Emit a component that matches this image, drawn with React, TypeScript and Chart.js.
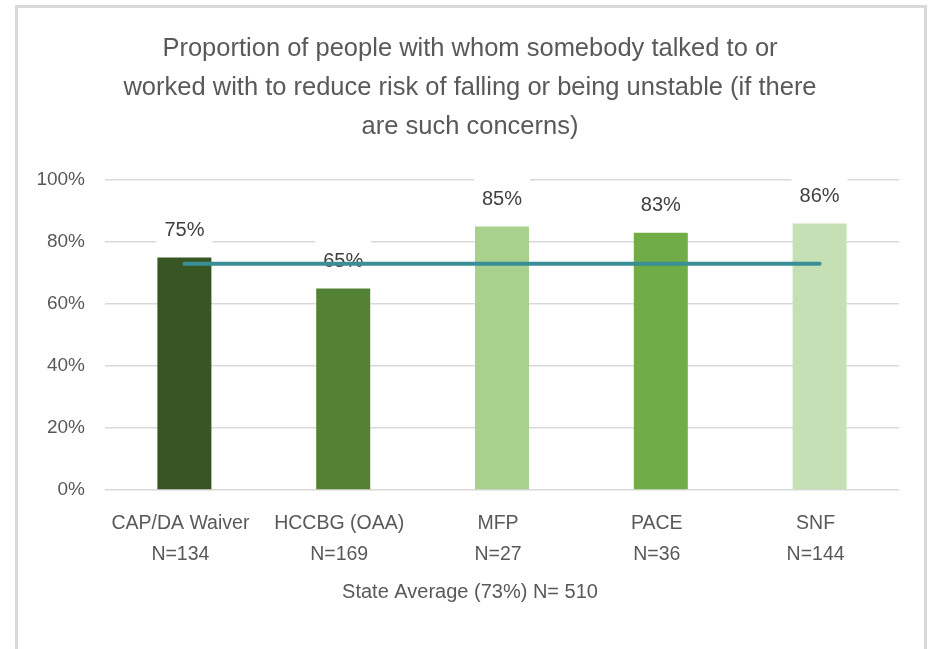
import React, { useEffect, useRef } from "react";
import { Chart, registerables } from "chart.js";

Chart.register(...registerables);

const titleLines = [
  "Proportion of people with whom somebody talked to or",
  "worked with to reduce risk of falling or being unstable (if there",
  "are such concerns)",
];
const categories = [
  ["CAP/DA Waiver", "N=134"],
  ["HCCBG (OAA)", "N=169"],
  ["MFP", "N=27"],
  ["PACE", "N=36"],
  ["SNF", "N=144"],
];
const proportions = [75, 65, 85, 83, 86];
const stateAverage = [73, 73, 73, 73, 73];
const barColors = ["#375623", "#548235", "#A9D18E", "#70AD47", "#C5E0B4"];
const xAxisTitle = "State Average (73%) N= 510";

const FONT = '"Liberation Sans", Arial, sans-serif';

const labelPlugin = {
  id: "barLabels",
  afterDatasetDraw(chart: any, args: any) {
    if (args.index !== 0) return;
    const ctx = chart.ctx;
    ctx.save();
    ctx.font = `20px ${FONT}`;
    ctx.textAlign = "center";
    ctx.textBaseline = "middle";
    args.meta.data.forEach((el: any, i: number) => {
      const cx = el.x;
      const cy = el.y - 27;
      ctx.fillStyle = "#ffffff";
      ctx.fillRect(cx - 28, cy - 23, 56, 46);
      ctx.fillStyle = "#404040";
      ctx.fillText(proportions[i] + "%", cx, cy);
    });
    ctx.restore();
  },
};

// Center the title and the bottom caption on the chart frame rather than on the plot.
const centerTitlesPlugin = {
  id: "centerTitles",
  afterLayout(chart: any) {
    chart.boxes.forEach((b: any) => {
      if (!b.axis && b.options && b.options.text !== undefined) {
        b.left = 41;
        b.right = 899;
      }
    });
  },
};

export default function App() {
  const ref = useRef<HTMLCanvasElement>(null);
  useEffect(() => {
    if (!ref.current) return;
    const chart = new Chart(ref.current, {
      data: {
        labels: categories,
        datasets: [
          {
            type: "bar",
            data: proportions,
            backgroundColor: barColors,
            barPercentage: 0.34,
            categoryPercentage: 1,
            order: 2,
          },
          {
            type: "line",
            data: stateAverage,
            borderColor: "#3A8F96",
            borderWidth: 4,
            borderCapStyle: "round",
            pointRadius: 0,
            order: 1,
          },
        ],
      } as any,
      options: {
        responsive: false,
        animation: false,
        layout: { padding: { left: 0, right: 35, top: 0, bottom: 0 } },
        plugins: {
          legend: { display: false },
          tooltip: { enabled: false },
          title: {
            display: true,
            text: titleLines,
            color: "#595959",
            font: { family: FONT, size: 25.5, weight: "normal", lineHeight: 1.53 },
            padding: { top: 29.5, bottom: 33.5 },
          },
          subtitle: {
            display: true,
            position: "bottom",
            text: xAxisTitle,
            color: "#595959",
            font: { family: FONT, size: 20, weight: "normal", lineHeight: 1.2 },
            padding: { top: 0, bottom: 45 },
          },
        },
        scales: {
          x: {
            grid: { display: false, drawTicks: false },
            border: { display: false },
            ticks: {
              color: "#595959",
              font: { family: FONT, size: 19.5, lineHeight: 31 / 19.5 },
              padding: 18.5,
              labelOffset: -4,
              maxRotation: 0,
              autoSkip: false,
            },
            afterFit: (s: any) => {
              s.height = 90;
            },
          },
          y: {
            min: 0,
            max: 100,
            grid: { color: "#D9D9D9", lineWidth: 1.5, drawTicks: false },
            border: { display: false },
            ticks: {
              stepSize: 20,
              color: "#595959",
              font: { family: FONT, size: 19 },
              padding: 20,
              callback: (v: any) => v + "%",
            },
            afterFit: (s: any) => {
              s.width = 105;
            },
          },
        },
      },
      plugins: [labelPlugin, centerTitlesPlugin],
    });
    return () => chart.destroy();
  }, []);

  return (
    <div
      style={{
        position: "fixed",
        left: 0,
        top: 0,
        width: 934,
        height: 649,
        overflow: "hidden",
        background: "#ffffff",
      }}
    >
      <div
        style={{
          position: "absolute",
          left: 15,
          top: 5,
          width: 912,
          height: 700,
          boxSizing: "border-box",
          borderLeft: "3px solid #D9D9D9",
          borderTop: "3px solid #D9D9D9",
          borderRight: "3px solid #D9D9D9",
        }}
      />
      <canvas
        ref={ref}
        width={934}
        height={649}
        style={{ position: "absolute", left: 0, top: 0, width: 934, height: 649 }}
      />
    </div>
  );
}
